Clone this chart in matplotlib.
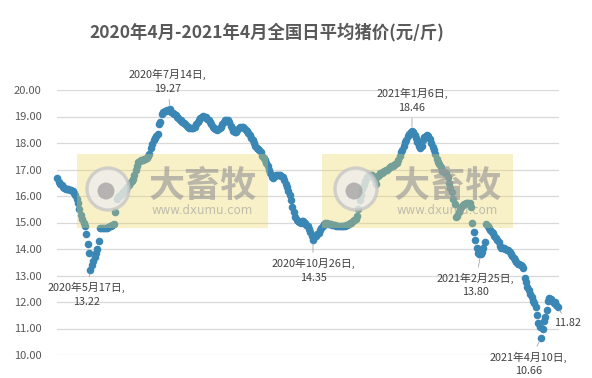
import matplotlib
matplotlib.use("Agg")
import matplotlib.pyplot as plt
import pandas as pd
from matplotlib.patches import Rectangle, Ellipse

plt.rcParams["font.family"] = ["Noto Sans CJK SC", "DejaVu Sans"]

# daily national average pig price (yuan/jin), 2020-04-23 .. 2021-04-22
START_DATE = "2020-04-23"
price = [
    16.68, 16.53, 16.45, 16.40, 16.35, 16.32, 16.28, 16.26, 16.25, 16.24,
    16.22, 16.18, 16.13, 16.05, 15.90, 15.75, 15.50, 15.30, 15.15, 15.00,
    14.85, 14.55, 14.20, 13.85, 13.22, 13.40, 13.55, 13.70, 13.85, 14.00,
    14.30, 14.78, 14.80, 14.78, 14.78, 14.80, 14.80, 14.82, 14.85, 14.85,
    14.90, 14.95, 15.40, 15.90, 15.95, 16.00, 16.05, 16.10, 16.15, 16.22,
    16.28, 16.35, 16.42, 16.50, 16.57, 16.65, 16.80, 17.00, 17.15, 17.30,
    17.33, 17.35, 17.37, 17.38, 17.40, 17.42, 17.50, 17.60, 17.80, 17.95,
    18.10, 18.18, 18.25, 18.35, 18.70, 18.78, 19.10, 19.18, 19.20, 19.22,
    19.24, 19.25, 19.27, 19.18, 19.15, 19.10, 19.05, 19.00, 18.95, 18.88,
    18.85, 18.80, 18.75, 18.70, 18.66, 18.62, 18.58, 18.56, 18.55, 18.57,
    18.62, 18.70, 18.80, 18.88, 18.95, 19.00, 19.03, 19.00, 18.97, 18.92,
    18.85, 18.78, 18.70, 18.62, 18.55, 18.52, 18.50, 18.52, 18.55, 18.62,
    18.70, 18.80, 18.85, 18.87, 18.85, 18.78, 18.65, 18.55, 18.45, 18.40,
    18.42, 18.48, 18.55, 18.60, 18.62, 18.60, 18.55, 18.50, 18.45, 18.38,
    18.30, 18.20, 18.10, 18.00, 17.90, 17.82, 17.78, 17.75, 17.65, 17.52,
    17.45, 17.35, 17.25, 17.15, 17.00, 16.85, 16.72, 16.68, 16.75, 16.80,
    16.78, 16.80, 16.80, 16.75, 16.70, 16.60, 16.45, 16.35, 16.20, 16.05,
    15.85, 15.60, 15.40, 15.20, 15.10, 15.05, 15.02, 15.00, 15.05, 15.07,
    15.00, 14.92, 14.85, 14.75, 14.65, 14.50, 14.35, 14.45, 14.50, 14.55,
    14.60, 14.70, 14.78, 14.85, 14.95, 15.00, 14.98, 14.95, 14.95, 14.93,
    14.92, 14.90, 14.90, 14.88, 14.87, 14.86, 14.86, 14.85, 14.86, 14.88,
    14.90, 14.92, 14.95, 14.98, 15.00, 15.05, 15.10, 15.15, 15.25, 15.50,
    15.85, 16.05, 16.25, 16.40, 16.55, 16.70, 16.75, 16.78, 16.80, 16.80,
    16.72, 16.60, 16.45, 16.75, 16.80, 16.85, 16.87, 16.90, 16.93, 16.97,
    17.00, 17.05, 17.10, 17.13, 17.15, 17.18, 17.20, 17.25, 17.35, 17.50,
    17.65, 17.75, 17.90, 18.02, 18.12, 18.25, 18.35, 18.42, 18.46, 18.40,
    18.30, 18.20, 18.05, 17.90, 17.80, 17.90, 18.10, 18.22, 18.28, 18.30,
    18.25, 18.15, 18.00, 17.85, 17.75, 17.60, 17.40, 17.30, 17.20, 17.10,
    16.95, 16.90, 16.88, 16.87, 16.70, 16.50, 16.30, 16.15, 15.90, 15.70,
    15.20, 15.25, 15.40, 15.50, 15.58, 15.65, 15.70, 15.72, 15.74, 15.74,
    15.72, 15.60, 15.00, 14.65, 14.35, 14.05, 13.85, 13.82, 13.80, 13.90,
    14.05, 14.25, 14.95, 14.85, 14.80, 14.72, 14.65, 14.60, 14.50, 14.40,
    14.35, 14.25, 14.10, 14.05, 14.03, 14.02, 14.00, 13.98, 13.95, 13.88,
    13.80, 13.72, 13.65, 13.58, 13.50, 13.45, 13.42, 13.40, 13.35, 13.30,
    12.90, 12.75, 12.55, 12.45, 12.30, 12.20, 12.05, 11.95, 11.80, 11.50,
    11.20, 11.05, 10.66, 11.00, 11.30, 11.45, 11.70, 12.05, 12.15, 12.10,
    12.05, 11.95, 12.00, 11.90, 11.82,
]

# labelled points
label_dates = ["2020-05-17", "2020-07-14", "2020-10-26", "2021-01-06",
               "2021-02-25", "2021-04-10", "2021-04-22"]
label_show_date = [True, True, True, True, True, True, False]
# text offsets in points (dx, dy)
label_offsets = [(-3, -18), (-2, 20), (0, -22), (0, 22), (-4, -22), (-9, -19), (7, -12)]

yticks = [10, 11, 12, 13, 14, 15, 16, 17, 18, 19, 20]

TITLE = "2020年4月-2021年4月全国日平均猪价(元/斤)"
DOT = "#3a87b6"
TEXT = "#404040"
W, H = 592, 378

dates = pd.date_range(START_DATE, periods=len(price), freq="D")
series = pd.Series(price, index=dates)

fig = plt.figure(figsize=(W / 100, H / 100), dpi=100)
ax = fig.add_axes([57 / W, 1 - 355 / H, 502 / W, 265 / H])

ax.scatter(dates, price, s=30, color=DOT, linewidths=0, zorder=3, clip_on=False)

ax.set_ylim(10, 20)
ax.set_xlim(dates[0] - pd.Timedelta(days=0.3), dates[-1] + pd.Timedelta(days=1))
ax.set_yticks(yticks)
ax.set_yticklabels([f"{v:.2f}" for v in yticks], fontsize=8, color="#595959")
ax.tick_params(axis="y", length=0, pad=11)
ax.set_xticks([])
ax.grid(axis="y", color="#d9d9d9", linewidth=0.9)
ax.set_axisbelow(True)
for sp in ax.spines.values():
    sp.set_visible(False)

for d, show, (dx, dy) in zip(label_dates, label_show_date, label_offsets):
    ts = pd.Timestamp(d)
    val = series[ts]
    if show:
        txt = f"{ts.year}年{ts.month}月{ts.day}日,\n{val:.2f}"
    else:
        txt = f"{val:.2f}"
    ax.annotate(txt, xy=(ts, val), xytext=(dx, dy), textcoords="offset points",
                ha="center", va="center", fontsize=7.8, color=TEXT,
                linespacing=1.45, zorder=6,
                arrowprops=dict(arrowstyle="-", color="#a6a6a6", lw=0.6,
                                shrinkA=2, shrinkB=3))

fig.text(267 / W, 1 - 32 / H, TITLE, ha="center", va="center",
         fontsize=12.5, fontweight="bold", color="#595959")


# watermark boxes (drawn over the dots, like in the source image)
def watermark(x0, circ_x):
    box = Rectangle((x0 / W, 1 - 228 / H), 191 / W, 74 / H, transform=fig.transFigure,
                    facecolor="#ecd55a", alpha=0.33, edgecolor="none", zorder=10)
    fig.add_artist(box)
    ring = Ellipse((circ_x / W, 1 - 189 / H), 42 / W, 42 / H, transform=fig.transFigure,
                   facecolor="#eeeeee", edgecolor="#c4c4c4", linewidth=2.4,
                   alpha=0.75, zorder=11)
    fig.add_artist(ring)
    inner = Ellipse(((circ_x - 2) / W, 1 - 191 / H), 17 / W, 17 / H,
                    transform=fig.transFigure, facecolor="#a0a0a0",
                    edgecolor="none", alpha=0.75, zorder=12)
    fig.add_artist(inner)
    fig.text((x0 + 126) / W, 1 - 186 / H, "大畜牧", ha="center", va="center",
             fontsize=26, fontweight="bold", color="#999999", alpha=0.65, zorder=12)
    fig.text((x0 + 125) / W, 1 - 210 / H, "www.dxumu.com", ha="center", va="center",
             fontsize=8.5, color="#9a9a9a", alpha=0.6, zorder=12, family="DejaVu Sans")


watermark(77, 108)
watermark(322, 356)

fig.savefig("out.png", dpi=100)
